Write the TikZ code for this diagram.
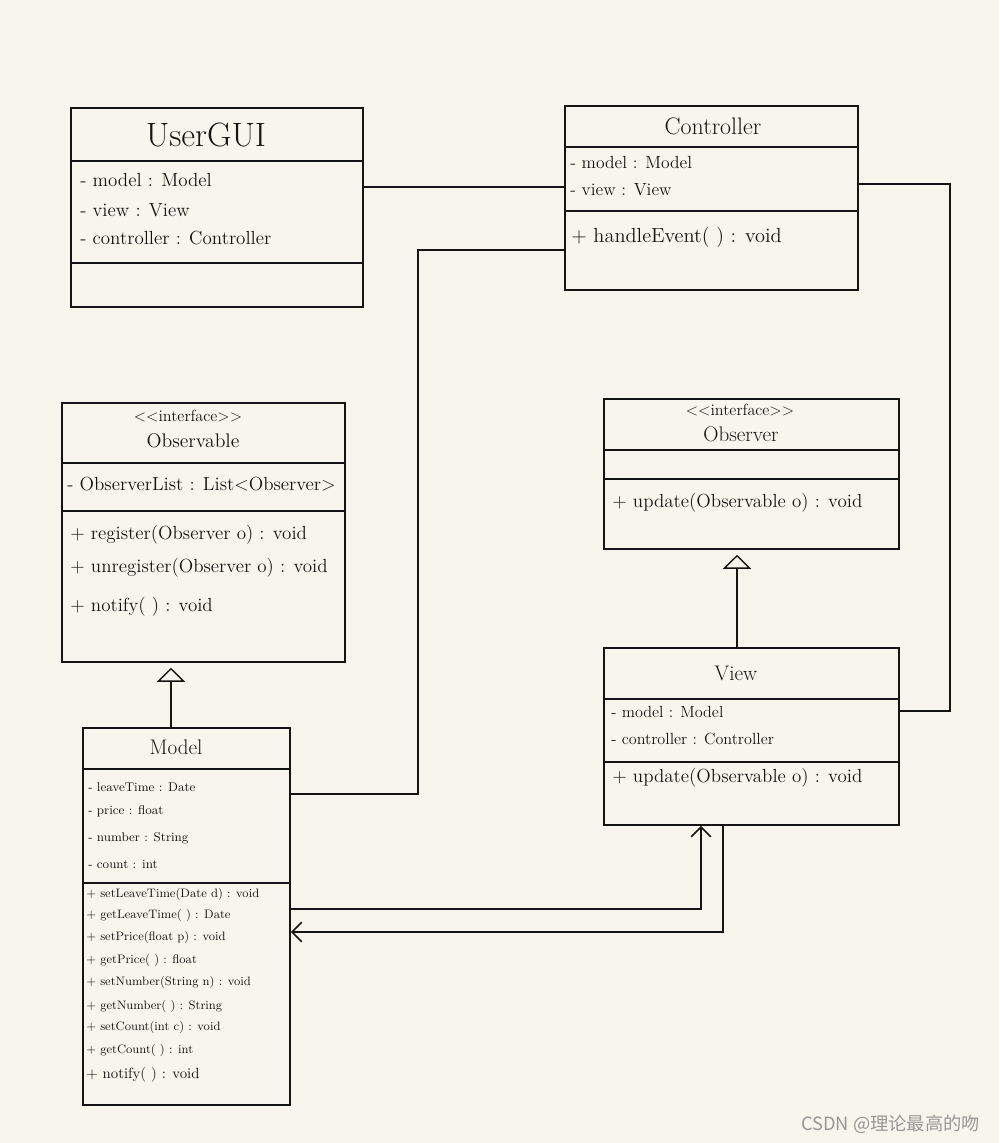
\documentclass[tikz,border=0pt]{standalone}
\usepackage{fontspec}
\usetikzlibrary{arrows.meta,fit}
\newfontfamily\cjkfont{Noto Sans CJK SC}
\definecolor{paper}{RGB}{248,246,236}
\definecolor{ink}{RGB}{20,20,20}
\definecolor{mark}{RGB}{150,150,150}
\tikzset{classbox/.style = {draw=ink, line width=1.2pt, inner sep=0pt}}
\tikzset{link/.style = {draw=ink, line width=1.2pt}}
\tikzset{assoc/.style = {link, -{Straight Barb[length=7pt,width=14pt]}}}
\tikzset{inherit/.style = {link, -{Triangle[open,length=10pt,width=20pt,line width=1pt]}, shorten >=3.5pt}}
\tikzset{bigtitle/.style = {text=ink, font=\fontsize{24}{24}\selectfont}}
\tikzset{title/.style = {text=ink, font=\fontsize{15}{15}\selectfont}}
\tikzset{stereo/.style = {text=ink, font=\fontsize{11.5}{11.5}\selectfont}}
\tikzset{member/.style = {text=ink, anchor=west, inner sep=0pt, font=\fontsize{13.5}{13.5}\selectfont}}
\tikzset{small/.style = {member, font=\fontsize{8.7}{8.7}\selectfont}}

\begin{document}
\begin{tikzpicture}[x=0.025cm, y=-0.025cm]
  \fill[paper] (0,0) rectangle (999,1143);
  \useasboundingbox (0,0) rectangle (999,1143);

  \node[classbox, fit={(71,108) (363,307)}] (gui) {};
  \draw[link] (gui.west |- 0,161) -- (gui.east |- 0,161);
  \draw[link] (gui.west |- 0,263) -- (gui.east |- 0,263);
  \node[bigtitle] (guiName) at (206,135) {UserGUI};
  \node[member] (guiModel) at (80,180) {- model : Model};
  \node[member] (guiView) at (80,210) {- view : View};
  \node[member] (guiCtl) at (80,238) {- controller : Controller};

  \node[classbox, fit={(565,106) (858,290)}] (ctl) {};
  \draw[link] (ctl.west |- 0,147) -- (ctl.east |- 0,147);
  \draw[link] (ctl.west |- 0,211) -- (ctl.east |- 0,211);
  \node[title, font=\fontsize{17}{17}\selectfont] (ctlName) at (713,126) {Controller};
  \node[member, font=\fontsize{12.5}{12.5}\selectfont] (ctlModel) at (570,162) {- model : Model};
  \node[member, font=\fontsize{12.5}{12.5}\selectfont] (ctlView) at (570,190) {- view : View};
  \node[member, font=\fontsize{14.5}{14.5}\selectfont] (ctlEvent) at (571,237) {+ handleEvent( ) : void};

  \node[classbox, fit={(62,403) (345,662)}] (obs) {};
  \draw[link] (obs.west |- 0,463) -- (obs.east |- 0,463);
  \draw[link] (obs.west |- 0,511) -- (obs.east |- 0,511);
  \node[stereo] (obsTag) at (188,416) {<{}<interface>{}>};
  \node[title, font=\fontsize{14}{14}\selectfont] (obsName) at (193,441) {Observable};
  \node[member] (obsList) at (67,484) {- ObserverList : List<Observer>};
  \node[member] (obsReg) at (70,535) {+ register(Observer o) : void};
  \node[member] (obsUnreg) at (70,568) {+ unregister(Observer o) : void};
  \node[member] (obsNotify) at (70,607) {+ notify( ) : void};

  \node[classbox, fit={(604,399) (899,549)}] (obsr) {};
  \draw[link] (obsr.west |- 0,450) -- (obsr.east |- 0,450);
  \draw[link] (obsr.west |- 0,479) -- (obsr.east |- 0,479);
  \node[stereo] (obsrTag) at (740,410) {<{}<interface>{}>};
  \node[title] (obsrName) at (741,434) {Observer};
  \node[member] (obsrUpdate) at (612,503) {+ update(Observable o) : void};

  \node[classbox, fit={(604,648) (899,825)}] (view) {};
  \draw[link] (view.west |- 0,699) -- (view.east |- 0,699);
  \draw[link] (view.west |- 0,762) -- (view.east |- 0,762);
  \node[title] (viewName) at (736,673) {View};
  \node[member, font=\fontsize{11.5}{11.5}\selectfont] (viewModel) at (611,712) {- model : Model};
  \node[member, font=\fontsize{11.5}{11.5}\selectfont] (viewCtl) at (611,739) {- controller : Controller};
  \node[member] (viewUpdate) at (612,778) {+ update(Observable o) : void};

  \node[classbox, fit={(83,728) (290,1105)}] (model) {};
  \draw[link] (model.west |- 0,769) -- (model.east |- 0,769);
  \draw[link] (model.west |- 0,883) -- (model.east |- 0,883);
  \node[title] (modelName) at (176,747) {Model};
  \node[small, font=\fontsize{9}{9}\selectfont] (mLeave) at (88,787) {- leaveTime : Date};
  \node[small, font=\fontsize{9}{9}\selectfont] (mPrice) at (88,811) {- price : float};
  \node[small, font=\fontsize{9}{9}\selectfont] (mNumber) at (88,838) {- number : String};
  \node[small, font=\fontsize{9}{9}\selectfont] (mCount) at (88,864) {- count : int};
  \node[small] (mSetLeave) at (86,894) {+ setLeaveTime(Date d) : void};
  \node[small] (mGetLeave) at (86,915) {+ getLeaveTime( ) : Date};
  \node[small] (mSetPrice) at (86,937) {+ setPrice(float p) : void};
  \node[small] (mGetPrice) at (86,960) {+ getPrice( ) : float};
  \node[small] (mSetNumber) at (86,982) {+ setNumber(String n) : void};
  \node[small] (mGetNumber) at (86,1006) {+ getNumber( ) : String};
  \node[small] (mSetCount) at (86,1027) {+ setCount(int c) : void};
  \node[small] (mGetCount) at (86,1050) {+ getCount( ) : int};
  \node[small, font=\fontsize{10.5}{10.5}\selectfont] (mNotify) at (86,1075) {+ notify( ) : void};

  \draw[link] (gui.east |- 0,187) -- (ctl.west |- 0,187);
  \draw[link] (ctl.west |- 0,250) -| (418,794) -- (model.east |- 0,794);
  \draw[link] (ctl.east |- 0,184) -| (950,711) -- (view.east |- 0,711);
  \draw[assoc] (model.east |- 0,909) -| (view.south -| 701,0);
  \draw[assoc] (view.south -| 723,0) |- (model.east |- 0,932);
  \draw[inherit] (model.north -| 171,0) -- (obs.south -| 171,0);
  \draw[inherit] (view.north -| 737,0) -- (obsr.south -| 737,0);

  \node[anchor=east, text=mark, font=\cjkfont\fontsize{13}{13}\selectfont] (csdn) at (985,1124) {CSDN @理论最高的吻};
\end{tikzpicture}
\end{document}
